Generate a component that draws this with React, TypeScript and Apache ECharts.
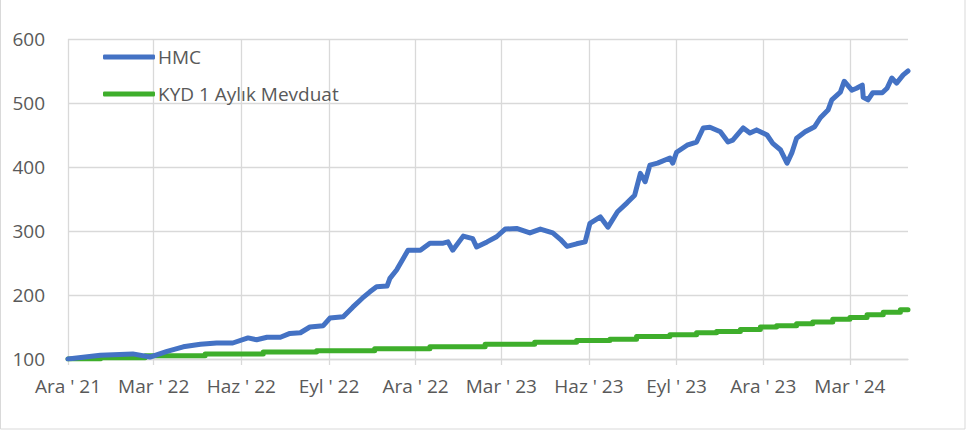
import React, { useEffect, useRef } from "react";
import * as echarts from "echarts";

// Axis range (daily categories)
const startDate = "2021-12-01";
const endDate = "2024-05-01";
const monthNames = ["Oca", "Şub", "Mar", "Nis", "May", "Haz", "Tem", "Ağu", "Eyl", "Eki", "Kas", "Ara"];
const labelMonths = [12, 3, 6, 9];
const yTicks = [100, 200, 300, 400, 500, 600];

const seriesNames = ["HMC", "KYD 1 Aylık Mevduat"];

// HMC
const hmcDates = [
  "2021-12-01", "2022-01-04", "2022-02-07", "2022-02-25", "2022-03-15", "2022-04-01", "2022-04-19", "2022-05-06",
  "2022-05-23", "2022-06-08", "2022-06-17", "2022-06-28", "2022-07-12", "2022-07-22", "2022-08-02", "2022-08-12",
  "2022-08-26", "2022-09-02", "2022-09-16", "2022-09-26", "2022-10-06", "2022-10-14", "2022-10-21", "2022-11-01",
  "2022-11-04", "2022-11-11", "2022-11-18", "2022-11-23", "2022-12-06", "2022-12-16", "2022-12-30", "2023-01-04",
  "2023-01-09", "2023-01-20", "2023-01-30", "2023-02-03", "2023-02-14", "2023-02-24", "2023-03-05", "2023-03-17",
  "2023-03-31", "2023-04-11", "2023-04-24", "2023-05-02", "2023-05-09", "2023-05-19", "2023-05-28", "2023-06-02",
  "2023-06-13", "2023-06-21", "2023-07-01", "2023-07-11", "2023-07-19", "2023-07-25", "2023-07-30", "2023-08-04",
  "2023-08-12", "2023-08-25", "2023-08-28", "2023-09-01", "2023-09-12", "2023-09-22", "2023-09-29", "2023-10-06",
  "2023-10-17", "2023-10-25", "2023-10-30", "2023-11-10", "2023-11-17", "2023-11-24", "2023-12-05", "2023-12-11",
  "2023-12-19", "2023-12-26", "2023-12-31", "2024-01-05", "2024-01-14", "2024-01-24", "2024-01-30", "2024-02-07",
  "2024-02-11", "2024-02-20", "2024-02-24", "2024-03-03", "2024-03-08", "2024-03-14", "2024-03-15", "2024-03-20",
  "2024-03-25", "2024-04-04", "2024-04-09", "2024-04-14", "2024-04-19", "2024-04-26", "2024-05-01",
];
const hmcValues = [
  100, 106, 108, 103, 112, 119, 123, 125,
  125, 133, 130, 134, 134, 140, 141, 150,
  152, 164, 166, 181, 195, 205, 213, 214,
  226, 239, 257, 270, 270, 281, 281, 283,
  270, 292, 288, 275, 283, 291, 303, 304,
  297, 303, 297, 287, 276, 280, 283, 312,
  322, 306, 330, 344, 356, 390, 377, 403,
  406, 414, 406, 423, 434, 439, 461, 462,
  455, 439, 442, 461, 453, 458, 450, 437,
  427, 406, 422, 445, 455, 463, 477, 489,
  505, 517, 534, 520, 523, 528, 509, 505,
  516, 516, 523, 539, 531, 544, 550,
];

// KYD 1 Aylık Mevduat (step changes)
const kydDates = [
  "2021-12-01", "2022-01-04", "2022-02-20", "2022-04-24", "2022-06-24", "2022-08-19", "2022-10-19", "2022-12-16",
  "2023-02-12", "2023-04-05", "2023-05-19", "2023-06-23", "2023-07-21", "2023-08-25", "2023-09-22", "2023-10-13",
  "2023-11-07", "2023-11-28", "2023-12-15", "2024-01-05", "2024-01-22", "2024-02-12", "2024-03-01", "2024-03-19",
  "2024-04-05", "2024-04-23", "2024-05-01",
];
const kydValues = [
  100, 102, 105, 108, 111, 113, 116, 119,
  123, 126, 129, 131, 135, 138, 141, 143,
  146, 150, 152, 155, 158, 162, 165, 169,
  173, 177, 177,
];

function buildDays(a: string, b: string): string[] {
  const out: string[] = [];
  const d = new Date(a + "T00:00:00Z");
  const e = new Date(b + "T00:00:00Z");
  while (d.getTime() <= e.getTime()) {
    out.push(d.toISOString().slice(0, 10));
    d.setUTCDate(d.getUTCDate() + 1);
  }
  return out;
}

const isQuarterStart = (v: string) =>
  v.slice(8, 10) === "01" && labelMonths.includes(parseInt(v.slice(5, 7), 10));

const FONT = "'Open Sans', sans-serif";
const GRAY = "#595959";
const GRID = "#D9D9D9";
const BLUE = "#4472C4";
const GREEN = "#3EAE2B";

export default function App() {
  const ref = useRef<HTMLDivElement>(null);
  useEffect(() => {
    if (!ref.current) return;
    const chart = echarts.init(ref.current, undefined, { renderer: "svg" });
    const days = buildDays(startDate, endDate);
    const intervalFn = (_i: number, v: string) => isQuarterStart(v);
    chart.setOption({
      animation: false,
      backgroundColor: "#ffffff",
      textStyle: { fontFamily: FONT },
      grid: { left: 68, right: 60, top: 39, bottom: 73, containLabel: false },
      legend: {
        orient: "vertical",
        left: 103,
        top: 44,
        padding: 0,
        itemWidth: 52,
        itemHeight: 5,
        itemGap: 11,
        icon: "roundRect",
        data: seriesNames,
        textStyle: { color: GRAY, fontSize: 19, fontFamily: FONT, padding: [0, 0, 0, -2], lineHeight: 26 },
      },
      xAxis: {
        type: "category",
        data: days,
        boundaryGap: false,
        axisLine: { show: true, lineStyle: { color: GRID, width: 1.3 } },
        axisTick: { show: true, interval: intervalFn, length: 6, lineStyle: { color: GRID, width: 1.3 } },
        splitLine: { show: true, interval: intervalFn, lineStyle: { color: GRID, width: 1.3 } },
        axisLabel: {
          interval: intervalFn,
          margin: 17,
          color: GRAY,
          fontSize: 19,
          fontFamily: FONT,
          formatter: (v: string) => {
            const m = parseInt(v.slice(5, 7), 10);
            return `${monthNames[m - 1]} ' ${v.slice(2, 4)}`;
          },
        },
      },
      yAxis: {
        type: "value",
        min: yTicks[0],
        max: yTicks[yTicks.length - 1],
        interval: 100,
        axisLine: { show: false },
        axisTick: { show: false },
        splitLine: { show: true, lineStyle: { color: GRID, width: 1.3 } },
        axisLabel: { color: GRAY, fontSize: 19, fontFamily: FONT, margin: 23 },
      },
      series: [
        {
          name: seriesNames[0],
          type: "line",
          data: hmcDates.map((d, i) => [d, hmcValues[i]]),
          symbol: "none",
          color: BLUE,
          itemStyle: { color: BLUE },
          lineStyle: { color: BLUE, width: 5, cap: "round", join: "round" },
          z: 3,
        },
        {
          name: seriesNames[1],
          type: "line",
          step: "end",
          data: kydDates.map((d, i) => [d, kydValues[i]]),
          symbol: "none",
          color: GREEN,
          itemStyle: { color: GREEN },
          lineStyle: { color: GREEN, width: 5, cap: "round", join: "round" },
          z: 2,
        },
      ],
      graphic: [
        {
          type: "rect",
          shape: { x: 0.5, y: -2, width: 964.5, height: 431 },
          style: { fill: "none", stroke: GRID, lineWidth: 1 },
          silent: true,
        },
      ],
    });
    return () => chart.dispose();
  }, []);
  return (
    <div
      ref={ref}
      style={{ position: "fixed", left: 0, top: 0, width: 968, height: 432, background: "#fff" }}
    />
  );
}
